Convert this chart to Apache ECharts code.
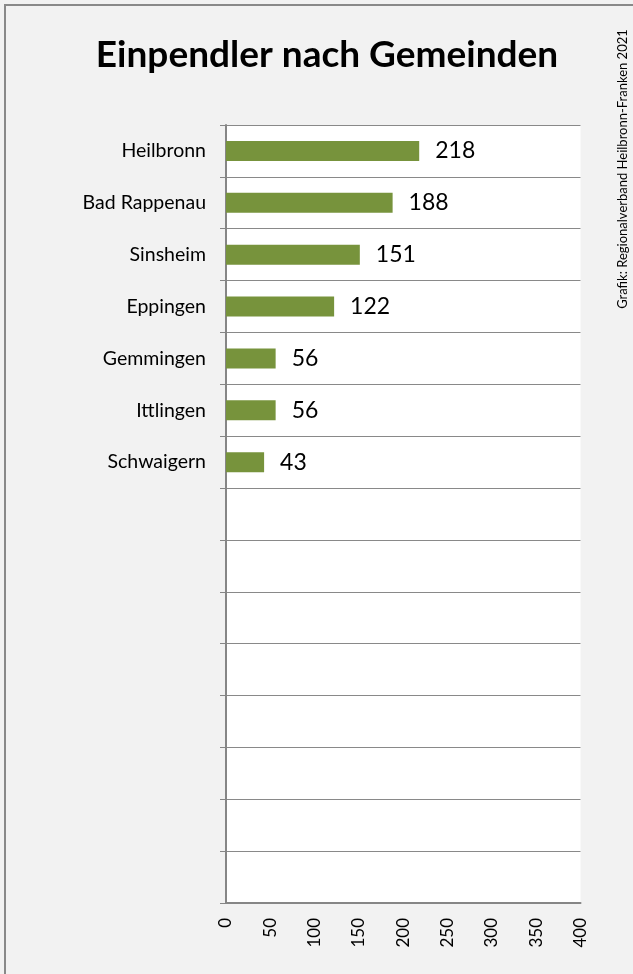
<!DOCTYPE html>
<html>
<head>
<meta charset="utf-8">
<script src="https://cdn.jsdelivr.net/npm/echarts@6/dist/echarts.min.js"></script>
<style>
html,body{margin:0;padding:0;background:#f2f2f2;}
#chart{width:633px;height:974px;}
</style>
</head>
<body>
<div id="chart"></div>
<script>
const titleText = 'Einpendler nach Gemeinden';
const sourceText = 'Grafik: Regionalverband Heilbronn-Franken 2021';
const categories = ['Heilbronn','Bad Rappenau','Sinsheim','Eppingen','Gemmingen','Ittlingen','Schwaigern','','','','','','','',''];
const values = [218,188,151,122,56,56,43];
const xTicks = {min:0, max:400, interval:50};

const chart = echarts.init(document.getElementById('chart'));
chart.setOption({
  backgroundColor:'#f2f2f2',
  animation:false,
  title:{
    text:titleText, left:322, top:32, textAlign:'center',
    textStyle:{fontFamily:'Lato', fontWeight:'bold', fontSize:37, color:'#000'}
  },
  graphic:[
    {type:'rect', shape:{x:5,y:5,width:700,height:1000}, style:{fill:'none', stroke:'#898989', lineWidth:2}, silent:true},
    {type:'text', x:616, y:169, rotation:Math.PI/2,
     style:{text:sourceText, fontFamily:'Lato', fontSize:13, fill:'#000', align:'center', verticalAlign:'top'}}
  ],
  grid:{left:226, right:52.5, top:125, bottom:71, show:true, backgroundColor:'#fff', borderWidth:0},
  xAxis:{
    type:'value', min:xTicks.min, max:xTicks.max, interval:xTicks.interval,
    axisLine:{show:true, lineStyle:{color:'#868686', width:2}},
    axisTick:{show:false},
    splitLine:{show:false},
    axisLabel:{rotate:90, margin:15, fontFamily:'Lato', fontSize:17, color:'#000'}
  },
  yAxis:{
    type:'category', data:categories, inverse:true,
    axisLine:{show:true, lineStyle:{color:'#868686', width:2}},
    axisTick:{show:true, length:6, lineStyle:{color:'#868686', width:1}},
    splitLine:{show:true, lineStyle:{color:'#898989', width:1}},
    axisLabel:{margin:20, fontFamily:'Lato', fontSize:19.5, color:'#000'}
  },
  series:[{
    type:'bar', data:values, barWidth:20,
    itemStyle:{color:'#77933c'},
    label:{show:true, position:'right', distance:16, fontFamily:'Lato', fontSize:23, color:'#000'}
  }]
});
</script>
</body>
</html>
